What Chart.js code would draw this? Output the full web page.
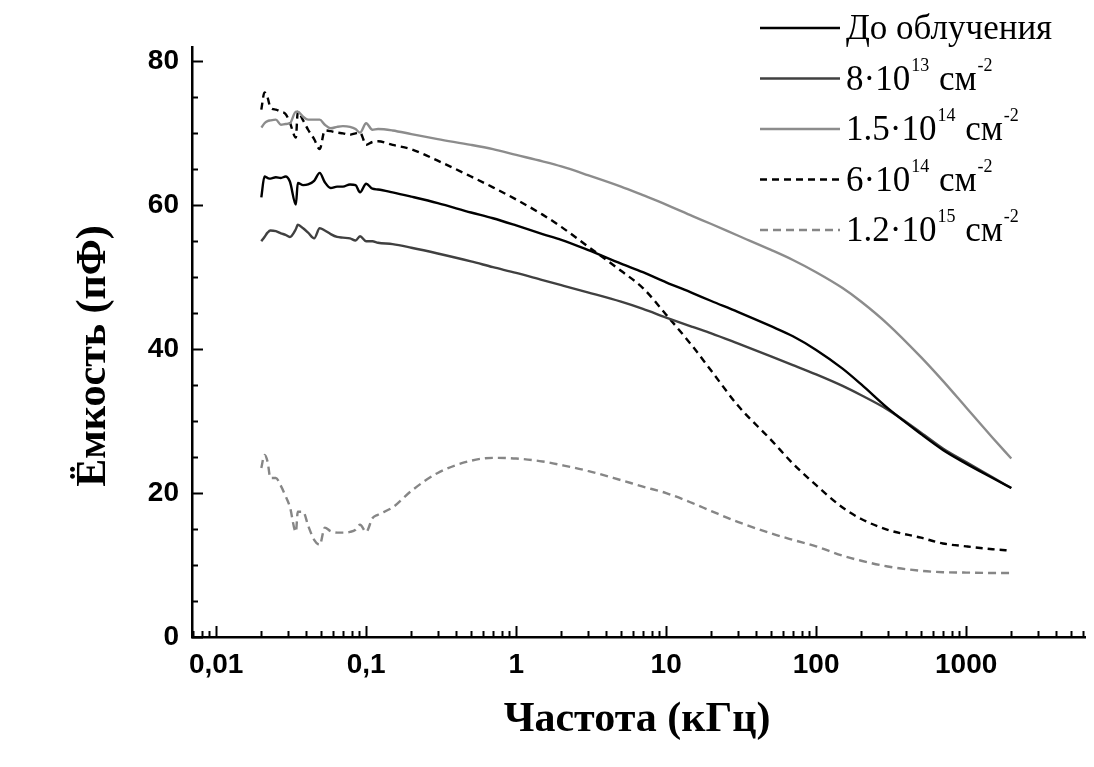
<!DOCTYPE html>
<html>
<head>
<meta charset="utf-8">
<script src="https://cdn.jsdelivr.net/npm/chart.js@4.4.0/dist/chart.umd.min.js"></script>
<style>
  html, body { margin: 0; padding: 0; background: #fff; }
  #wrap { width: 1094px; height: 767px; }
</style>
</head>
<body>
<div id="wrap"><canvas id="capChart" width="1094" height="767"></canvas></div>
<script>
// frequency, kHz
const freqKHz = [0.02, 0.021, 0.022, 0.023, 0.025, 0.027, 0.029, 0.031, 0.034, 0.035, 0.038, 0.041,
  0.045, 0.049, 0.053, 0.058, 0.064, 0.07, 0.078, 0.085, 0.091, 0.1, 0.11, 0.12,
  0.15, 0.2, 0.3, 0.5, 0.7, 1, 1.5, 2, 3, 5, 7, 10, 15, 20, 30, 50, 70, 100,
  150, 200, 300, 500, 700, 1000, 1500, 2000];

// capacitance, pF
const beforeIrr = [61.1, 64.0, 63.8, 63.7, 63.9, 63.8, 64.0, 63.3, 60.1, 63.1, 62.8, 62.9,
  63.4, 64.5, 63.2, 62.4, 62.6, 62.6, 62.9, 62.8, 61.8, 63.0, 62.3, 62.2,
  61.8, 61.2, 60.3, 59.0, 58.2, 57.2, 56.0, 55.2, 53.8, 51.9, 50.7, 49.3, 47.8, 46.7, 45.2, 43.2, 41.8, 39.9,
  37.3, 35.1, 31.8, 28.2, 26.0, 24.1, 22.1, 20.7];
const dose8e13 = [55.0, 55.6, 56.2, 56.5, 56.4, 56.1, 55.9, 55.6, 56.7, 57.3, 56.8, 56.2,
  55.4, 56.8, 56.5, 56.0, 55.6, 55.5, 55.4, 55.1, 55.7, 55.0, 55.0, 54.8,
  54.6, 54.1, 53.3, 52.2, 51.4, 50.6, 49.6, 48.9, 47.9, 46.6, 45.6, 44.4, 43.1, 42.2, 40.8, 39.0, 37.8, 36.5,
  34.9, 33.6, 31.6, 28.4, 26.2, 24.3, 22.2, 20.7];
const dose15e14 = [70.8, 71.4, 71.7, 71.8, 71.9, 71.2, 71.3, 71.4, 73.0, 73.0, 72.3, 71.9,
  71.9, 71.9, 71.2, 70.7, 70.9, 71.0, 70.9, 70.6, 70.1, 71.4, 70.5, 70.6,
  70.4, 69.9, 69.2, 68.4, 67.8, 67.0, 66.1, 65.4, 64.2, 62.6, 61.4, 60.1, 58.5, 57.4, 55.8, 53.8, 52.4, 50.7,
  48.5, 46.6, 43.5, 38.9, 35.6, 31.9, 27.7, 24.8];
const dose6e14 = [73.3, 75.7, 75.0, 73.6, 73.3, 73.0, 72.7, 71.5, 69.4, 73.0, 71.8, 70.5,
  69.2, 67.8, 70.4, 70.3, 70.1, 70.0, 69.8, 70.0, 70.1, 68.4, 68.8, 68.9,
  68.4, 67.8, 66.2, 64.0, 62.5, 60.8, 58.7, 57.0, 54.3, 50.9, 48.5, 44.8, 40.4, 37.0, 32.2, 27.4, 24.1, 21.1,
  18.0, 16.4, 14.9, 13.8, 13.0, 12.6, 12.2, 12.0];
const dose12e15 = [23.5, 25.3, 24.4, 22.1, 22.1, 21.0, 19.6, 18.1, 14.6, 17.4, 17.4, 15.5,
  13.5, 12.8, 15.2, 14.7, 14.5, 14.5, 14.6, 14.9, 15.6, 14.6, 16.5, 17.0,
  18.0, 20.3, 22.8, 24.5, 24.9, 24.8, 24.4, 23.9, 23.1, 21.8, 20.9, 20.0, 18.6, 17.5, 16.0, 14.4, 13.5, 12.6,
  11.3, 10.6, 9.8, 9.2, 9.0, 8.95, 8.9, 8.9];

// "^" marks a superscript part
const seriesNames = ['До облучения', '8·10^13 см^-2', '1.5·10^14 см^-2', '6·10^14 см^-2', '1.2·10^15 см^-2'];
const xTickValues = [0.01, 0.1, 1, 10, 100, 1000];
const yTickValues = [0, 20, 40, 60, 80];

const toPoints = vals => vals.map((v, i) => ({ x: freqKHz[i], y: v }));

function makeSet(i, vals, color, dash) {
  return {
    label: seriesNames[i],
    data: toPoints(vals),
    borderColor: color,
    borderWidth: 2.4,
    borderDash: dash || [],
    pointRadius: 0,
    cubicInterpolationMode: 'monotone',
    fill: false
  };
}

// inward ticks, axis titles and the legend with superscripts
const decorPlugin = {
  id: 'decor',
  afterDraw(chart) {
    const { ctx, chartArea: a, scales } = chart;
    const x = scales.x, y = scales.y;
    ctx.save();
    ctx.strokeStyle = '#000';
    ctx.lineWidth = 2;
    ctx.setLineDash([]);

    for (let v = 0; v <= y.max; v += 5) {
      const py = Math.round(y.getPixelForValue(v)) + 0.5;
      const len = v % 20 === 0 ? 11 : 6;
      ctx.beginPath();
      ctx.moveTo(a.left, py);
      ctx.lineTo(a.left + len, py);
      ctx.stroke();
    }
    for (let d = -3; d <= 4; d++) {
      for (let m = 1; m <= 9; m++) {
        const v = m * Math.pow(10, d);
        if (v < x.min || v > x.max) continue;
        const px = Math.round(x.getPixelForValue(v)) + 0.5;
        const len = m === 1 ? 11 : 6;
        ctx.beginPath();
        ctx.moveTo(px, a.bottom);
        ctx.lineTo(px, a.bottom - len);
        ctx.stroke();
      }
    }

    // axis titles
    ctx.fillStyle = '#000';
    ctx.font = 'bold 42px "Liberation Serif"';
    ctx.textAlign = 'center';
    ctx.textBaseline = 'middle';
    ctx.fillText('Частота (кГц)', 637, 720);
    ctx.save();
    ctx.translate(94, 356);
    ctx.rotate(-Math.PI / 2);
    ctx.fillText('Ёмкость (пФ)', 0, 0);
    ctx.restore();

    // legend
    ctx.textAlign = 'left';
    ctx.textBaseline = 'alphabetic';
    chart.data.datasets.forEach((ds, i) => {
      const rowY = 28 + i * 50.5;
      ctx.strokeStyle = ds.borderColor;
      ctx.lineWidth = ds.borderWidth;
      ctx.setLineDash(ds.borderDash);
      ctx.beginPath();
      ctx.moveTo(760, rowY);
      ctx.lineTo(840, rowY);
      ctx.stroke();
      ctx.setLineDash([]);

      const parts = ds.label.split(/\^(\S+)/);
      let tx = 846;
      const base = rowY + 11;
      parts.forEach((p, k) => {
        if (!p) return;
        if (k % 2 === 0) {
          ctx.font = '35px "Liberation Serif"';
          ctx.fillText(p, tx, base);
        } else {
          ctx.font = '18px "Liberation Serif"';
          ctx.fillText(p, tx + 1, base - 19);
        }
        tx += ctx.measureText(p).width + (k % 2 ? 2 : 0);
      });
    });
    ctx.restore();
  }
};

new Chart(document.getElementById('capChart'), {
  type: 'line',
  data: {
    datasets: [
      makeSet(0, beforeIrr, '#000000'),
      makeSet(1, dose8e13, '#404040'),
      makeSet(2, dose15e14, '#8c8c8c'),
      makeSet(3, dose6e14, '#000000', [7, 5]),
      makeSet(4, dose12e15, '#868686', [8, 5])
    ]
  },
  options: {
    responsive: false,
    animation: false,
    devicePixelRatio: 1,
    layout: { padding: { top: 47, right: 9, left: 0, bottom: 0 } },
    plugins: { legend: { display: false }, tooltip: { enabled: false } },
    scales: {
      x: {
        type: 'logarithmic',
        min: 0.0069,
        max: 6200,
        afterFit: s => { s.height = 130; },
        afterBuildTicks: s => { s.ticks = xTickValues.map(v => ({ value: v })); },
        grid: { display: false, drawTicks: false },
        border: { display: true, color: '#000', width: 2.5 },
        ticks: {
          autoSkip: false,
          maxRotation: 0,
          padding: 11,
          color: '#000',
          font: { family: '"Liberation Sans"', weight: 'bold', size: 28 },
          callback: v => String(v).replace('.', ',')
        }
      },
      y: {
        min: 0,
        max: 82,
        afterFit: s => { s.width = 192; },
        afterBuildTicks: s => { s.ticks = yTickValues.map(v => ({ value: v })); },
        grid: { display: false, drawTicks: false },
        border: { display: true, color: '#000', width: 2.5 },
        ticks: {
          padding: 13,
          color: '#000',
          font: { family: '"Liberation Sans"', weight: 'bold', size: 28 }
        }
      }
    }
  },
  plugins: [decorPlugin]
});
</script>
</body>
</html>
